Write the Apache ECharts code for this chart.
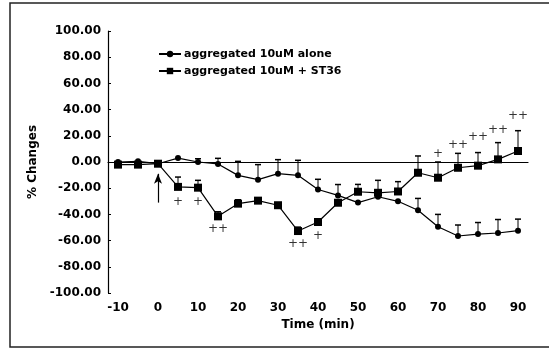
<!DOCTYPE html>
<html>
<head>
<meta charset="utf-8">
<script src="https://cdn.jsdelivr.net/npm/echarts@6/dist/echarts.min.js"></script>
<style>
  html, body { margin: 0; padding: 0; background: #fff; }
  #chart { width: 549px; height: 348px; }
</style>
</head>
<body>
<div id="chart"></div>
<script>
// time points (min), every 5 min
const timeLabels = ['-10', '-5', '0', '5', '10', '15', '20', '25', '30', '35', '40',
  '45', '50', '55', '60', '65', '70', '75', '80', '85', '90']

// % changes
const aloneValues = [0, 0.5, -1.3, 3, 0, -1.5, -10.2, -13.5, -8.9, -10.2, -21,
  -25.5, -31, -26.5, -30, -36.8, -49.4, -56.5, -55, -54.2, -52.4]
const aloneErr = [0, 0, 0, 0, 2.5, 4.3, 10.7, 11.5, 10.7, 11.5, 7.8,
  8.3, 0, 0, 0, 9, 9.4, 8.4, 8.8, 10.3, 8.8]

const st36Values = [-2, -2, -1.3, -19, -19.6, -41.5, -31.8, -29.5, -33, -52.7, -45.8,
  -31.1, -22.7, -23.5, -22.5, -8.2, -12, -4.4, -2.8, 2, 8.4]
const st36Err = [0, 0, 0, 7.5, 5.6, 3.5, 3, 2, 0, 3, 0,
  0, 5.6, 9.5, 7.5, 12.8, 12, 11, 10, 12.8, 15.5]

// significance marks
const markTimes = ['5', '10', '15', '35', '40', '70', '75', '80', '85', '90']
const markY = [-30.5, -30.5, -51.4, -62.4, -56.5, 6.4, 12.8, 19.2, 24.3, 35]
const markText = ['+', '+', '++', '++', '+', '+', '++', '++', '++', '++']

const yTicks = { min: -100, max: 100, step: 20 }

const FONT = 'DejaVu Sans'
const chart = echarts.init(document.getElementById('chart'))

function errorBars(values, errs) {
  return values.map((v, i) => [i, v, errs[i]])
}

function renderErr(params, api) {
  const err = api.value(2)
  if (!err) return null
  const p0 = api.coord([api.value(0), api.value(1)])
  const p1 = api.coord([api.value(0), api.value(1) + err])
  const cap = 3
  return {
    type: 'group',
    children: [
      { type: 'line', shape: { x1: p0[0], y1: p0[1], x2: p1[0], y2: p1[1] }, style: { stroke: '#000', lineWidth: 1 } },
      { type: 'line', shape: { x1: p1[0] - cap, y1: p1[1], x2: p1[0] + cap, y2: p1[1] }, style: { stroke: '#000', lineWidth: 1.5 } },
    ],
  }
}

const option = {
  animation: false,
  grid: { left: 108, right: 21, top: 31, bottom: 55 },
  graphic: [
    // frame: left, top and bottom edges (right edge runs off the picture)
    { type: 'rect', shape: { x: 10, y: 3, width: 560, height: 344 }, style: { fill: 'none', stroke: '#222', lineWidth: 1.5 }, silent: true },
  ],
  legend: {
    orient: 'vertical',
    left: 153,
    top: 42,
    itemWidth: 22,
    itemHeight: 8,
    itemGap: 3,
    data: ['aggregated 10uM alone', 'aggregated 10uM + ST36'],
    textStyle: { fontFamily: FONT, fontSize: 11, fontWeight: 'bold', color: '#000', lineHeight: 14, padding: [0, 0, 0, -2] },
  },
  xAxis: {
    type: 'category',
    data: timeLabels,
    boundaryGap: true,
    name: 'Time (min)',
    nameLocation: 'middle',
    nameGap: 26,
    nameTextStyle: { fontFamily: FONT, fontSize: 12, fontWeight: 'bold', color: '#000' },
    axisLine: { lineStyle: { color: '#000', width: 1.2 } },
    axisTick: { inside: true, length: 3, interval: 0, lineStyle: { color: '#000' } },
    axisLabel: { interval: 1, margin: 9, fontFamily: FONT, fontSize: 12, fontWeight: 'bold', color: '#000' },
    splitLine: { show: false },
  },
  yAxis: {
    type: 'value',
    min: yTicks.min,
    max: yTicks.max,
    interval: yTicks.step,
    name: '% Changes',
    nameLocation: 'middle',
    nameGap: 66,
    nameRotate: 90,
    nameTextStyle: { fontFamily: FONT, fontSize: 12, fontWeight: 'bold', color: '#000' },
    axisLine: { show: true, lineStyle: { color: '#000', width: 1.2 } },
    axisTick: { show: true, inside: true, length: 3, lineStyle: { color: '#000' } },
    axisLabel: {
      margin: 7,
      fontFamily: FONT, fontSize: 12, fontWeight: 'bold', color: '#000',
      formatter: v => v.toFixed(2),
    },
    splitLine: { show: false },
  },
  series: [
    {
      name: 'aggregated 10uM alone',
      type: 'line',
      data: aloneValues,
      symbol: 'circle',
      symbolSize: 6,
      itemStyle: { color: '#000' },
      lineStyle: { color: '#000', width: 1.2 },
      z: 3,
      markLine: {
        silent: true,
        symbol: 'none',
        label: { show: false },
        lineStyle: { type: [3, 3], color: '#000', width: 1 },
        data: [
          { yAxis: 0 },
          [
            { coord: ['0', -31], symbol: 'none', lineStyle: { type: 'solid', color: '#000', width: 1.2 } },
            { coord: ['0', -9], symbol: 'arrow', symbolSize: [6, 10] },
          ],
        ],
      },
    },
    {
      name: 'aggregated 10uM + ST36',
      type: 'line',
      data: st36Values,
      symbol: 'rect',
      symbolSize: 8,
      itemStyle: { color: '#000' },
      lineStyle: { color: '#000', width: 1.2 },
      z: 3,
    },
    {
      name: 'alone err',
      type: 'custom',
      renderItem: renderErr,
      data: errorBars(aloneValues, aloneErr),
      z: 2,
    },
    {
      name: 'st36 err',
      type: 'custom',
      renderItem: renderErr,
      data: errorBars(st36Values, st36Err),
      z: 2,
    },
    {
      name: 'marks',
      type: 'scatter',
      symbolSize: 0,
      data: markTimes.map((t, i) => ({ value: [t, markY[i]], name: markText[i] })),
      label: {
        show: true,
        position: 'inside',
        formatter: p => p.name,
        fontFamily: FONT,
        fontSize: 12,
        color: '#000',
      },
      z: 4,
    },
  ],
}

chart.setOption(option)
</script>
</body>
</html>
